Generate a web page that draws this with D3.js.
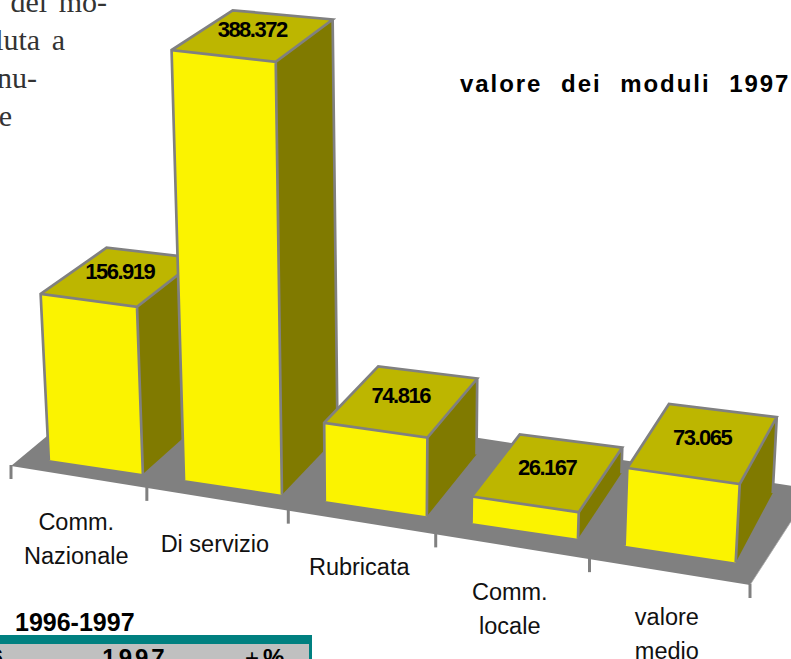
<!DOCTYPE html>
<html>
<head>
<meta charset="utf-8">
<script src="https://cdn.jsdelivr.net/npm/d3@7"></script>
<style>
  html, body { margin: 0; padding: 0; background: white; }
  svg { display: block; }
</style>
</head>
<body>
<script>
const categories = [["Comm.", "Nazionale"], ["Di servizio"], ["Rubricata"], ["Comm.", "locale"], ["valore", "medio"]];
const moduleValues = [156.919, 388.372, 74.816, 26.167, 73.065];
const chartTitle = ["valore", "dei", "moduli", "1997"];
const bodyText = [["del", "mo-"], ["luta", "a"], ["nu-"], ["e"]];
const tableTitle = "1996-1997";

const width = 791, height = 659;
const faceFront = "#fbf300", faceTop = "#bdb600", faceSide = "#807a00", edge = "#808080";

const svg = d3.select("body").append("svg")
  .attr("width", width)
  .attr("height", height);

// positions along the category axis, 0..1 before perspective
const band = d3.scaleBand().domain(d3.range(categories.length)).range([0, 1])
  .paddingInner(0.3).paddingOuter(0.15);
const persp = s => s / (s + 1.11 * (1 - s));
// value -> height inside the projected box
const h = d3.scalePow().exponent(1.04).domain([0, 400]).range([0, 1]);

// corners of the projected box, at floor and at h = 1
const box = {
  floorFront: [[29, 457], [760, 566]], floorBack: [[95, 405], [796, 496]],
  topFront: [[6, 18], [785, 106]], topBack: [[74, -17], [821, 51]]
};
const mix = (a, b, t) => [a[0] + (b[0] - a[0]) * t, a[1] + (b[1] - a[1]) * t];
const edgeAt = (e, t) => mix(e[0], e[1], t);
function project(s, w, hh) {
  const t = persp(s);
  const floor = mix(edgeAt(box.floorFront, t), edgeAt(box.floorBack, t), w);
  const top = mix(edgeAt(box.topFront, t), edgeAt(box.topBack, t), w);
  return mix(floor, top, hh);
}

// floor plate
const floorFront = [[11, 466], [750, 585]];
const floorBack = [[112, 382], [812, 489]];
const floorAt = s => edgeAt(floorFront, persp(s));
const poly = d3.line();

svg.append("path")
  .attr("d", poly([floorFront[0], floorFront[1], floorBack[1], floorBack[0]]) + "Z")
  .attr("fill", edge);
svg.append("path")
  .attr("d", poly([floorFront[1], floorBack[1]]))
  .attr("stroke", "#a8a8a8")
  .attr("stroke-width", 0.8);

svg.append("g").selectAll("line")
  .data(d3.range(categories.length + 1))
  .join("line")
    .attr("x1", d => floorAt(d / categories.length)[0])
    .attr("x2", d => floorAt(d / categories.length)[0])
    .attr("y1", d => floorAt(d / categories.length)[1] - 1)
    .attr("y2", d => floorAt(d / categories.length)[1] + 13)
    .attr("stroke", edge)
    .attr("stroke-width", 3);

// left bars get covered by the next one
const bars = svg.append("g").selectAll("g")
  .data(moduleValues)
  .join("g");

const corners = (d, i) => {
  const s0 = band(i), s1 = band(i) + band.bandwidth(), v = h(d);
  return {
    a: project(s0, 0, 0), b: project(s1, 0, 0), c: project(s1, 1, 0),
    e: project(s0, 0, v), f: project(s1, 0, v), g: project(s1, 1, v), k: project(s0, 1, v)
  };
};

bars.append("path")
  .attr("d", (d, i) => { const p = corners(d, i); return poly([p.b, p.c, p.g, p.f]) + "Z"; })
  .attr("fill", faceSide);
bars.append("path")
  .attr("d", (d, i) => { const p = corners(d, i); return poly([p.e, p.f, p.g, p.k]) + "Z"; })
  .attr("fill", faceTop);
bars.append("path")
  .attr("d", (d, i) => { const p = corners(d, i); return poly([p.a, p.b, p.f, p.e]) + "Z"; })
  .attr("fill", faceFront);
bars.append("path")
  .attr("d", (d, i) => {
    const p = corners(d, i);
    return poly([p.a, p.e, p.k, p.g, p.f, p.e]) + poly([p.f, p.b]) + poly([p.g, p.c]);
  })
  .attr("fill", "none")
  .attr("stroke", edge)
  .attr("stroke-width", 2.7);

const valueFormat = d3.format(".3f");
bars.append("text")
  .attr("x", (d, i) => { const p = corners(d, i); return d3.mean([p.e, p.f, p.g, p.k], q => q[0]) - 1; })
  .attr("y", (d, i) => { const p = corners(d, i); return d3.mean([p.e, p.f, p.g, p.k], q => q[1]) + 2; })
  .attr("text-anchor", "middle")
  .style("font-family", "'Liberation Sans'")
  .style("font-size", "22px")
  .style("font-weight", "bold")
  .style("letter-spacing", "-1.5px")
  .text(d => valueFormat(d));

// category labels under the floor edge
svg.append("g").selectAll("text")
  .data(categories)
  .join("text")
    .attr("text-anchor", "middle")
    .style("font-family", "'Liberation Sans'")
    .style("font-size", "23.5px")
    .attr("fill", "#111")
    .each(function (d, i) {
      const mid = floorAt((i + 0.5) / categories.length);
      d3.select(this).selectAll("tspan")
        .data(d)
        .join("tspan")
          .attr("x", mid[0] - 2)
          .attr("y", (l, j) => mid[1] + 53 + j * 34)
          .text(l => l);
    });

svg.append("text")
  .attr("x", 460)
  .attr("y", 92)
  .style("font-family", "'Liberation Sans'")
  .style("font-size", "24px")
  .style("font-weight", "bold")
  .style("word-spacing", "10px")
  .style("letter-spacing", "1.95px")
  .text(chartTitle.join(" "));

// body text of the page, cut by the left edge
const bodyRight = [107, 65, 37, 12];
const bodyY = [12, 50, 88, 126];
svg.append("g").selectAll("text")
  .data(bodyText)
  .join("text")
    .attr("x", (d, i) => bodyRight[i])
    .attr("y", (d, i) => bodyY[i])
    .attr("text-anchor", "end")
    .style("font-family", "'Liberation Serif'")
    .style("font-size", "30px")
    .style("word-spacing", "4px")
    .attr("fill", "#333")
    .text(d => d.join(" "));

// table stub at the bottom
svg.append("text")
  .attr("x", 15)
  .attr("y", 631)
  .style("font-family", "'Liberation Sans'")
  .style("font-size", "25px")
  .style("font-weight", "bold")
  .text(tableTitle);

svg.append("rect")
  .attr("x", -6).attr("y", 635).attr("width", 318).attr("height", 30)
  .attr("fill", "#008080");
svg.append("rect")
  .attr("x", -6).attr("y", 644).attr("width", 315).attr("height", 25)
  .attr("fill", "#c0c0c0");

const tableHead = svg.append("g")
  .style("font-family", "'Liberation Sans'")
  .style("font-size", "24px")
  .style("font-weight", "bold");
tableHead.append("text").attr("x", 3).attr("y", 666).attr("text-anchor", "end").text("6");
tableHead.append("text").attr("x", 135).attr("y", 666).attr("text-anchor", "middle")
  .style("letter-spacing", "3px").text("1997");
tableHead.append("text").attr("x", 245).attr("y", 666)
  .style("font-weight", "normal").text("+");
tableHead.append("text").attr("x", 263).attr("y", 666).text("%");
</script>
</body>
</html>
